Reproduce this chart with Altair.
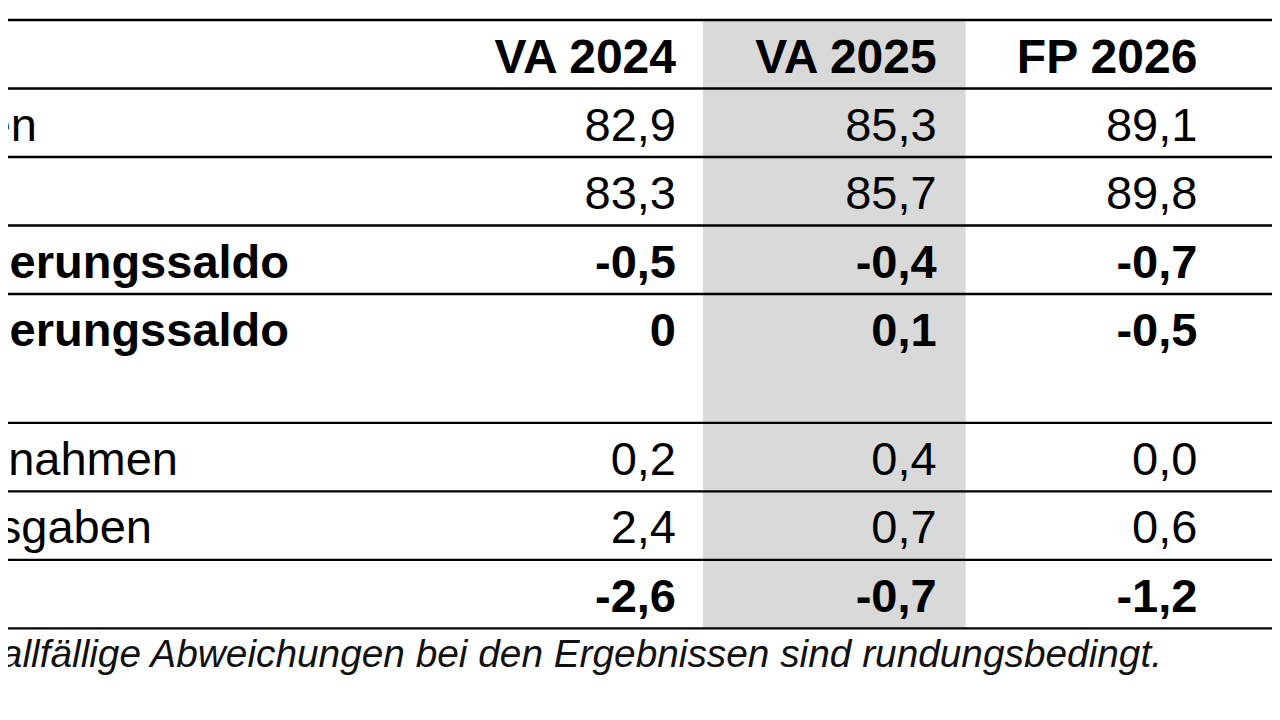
import altair as alt
import pandas as pd

# ---------------- data ----------------
columns = ["VA 2024", "VA 2025", "FP 2026", "FP 2027"]
row_labels = ["en", "n", "erungssaldo", "erungssaldo", "nnahmen", "sgaben", ""]
row_bold = [False, False, True, True, False, False, True]
va_2024 = ["82,9", "83,3", "-0,5", "0", "0,2", "2,4", "-2,6"]
va_2025 = ["85,3", "85,7", "-0,4", "0,1", "0,4", "0,7", "-0,7"]
fp_2026 = ["89,1", "89,8", "-0,7", "-0,5", "0,0", "0,6", "-1,2"]
footnote = "allfällige Abweichungen bei den Ergebnissen sind rundungsbedingt."

# ---------------- layout (page pixel units) ----------------
FONT = "Liberation Sans"
TABLE_TOP = 20
ROW_H = 68.5
row_units = [1, 1, 1, 1, 1.88, 1, 1, 1]          # header + 7 body rows
BASE_OFF = 52                                     # baseline offset within a row
COL_RIGHT0 = 676
COL_STEP = 260.7
label_right = [37, 10, 289, 289, 178, 152, 0]     # right end of the (cut) labels
FOOT_RIGHT = 1162
FOOT_BASE = 667
W, H = 1264, 700

tops = [TABLE_TOP]
for u in row_units:
    tops.append(tops[-1] + u * ROW_H)
col_right = [COL_RIGHT0 + i * COL_STEP for i in range(len(columns))]

xs = alt.Scale(domain=[8, 8 + W], nice=False, zero=False)
ys = alt.Scale(domain=[8, 8 + H], reverse=True, nice=False, zero=False)

# gray highlighted column (VA 2025)
gray_df = pd.DataFrame({
    "x1": [col_right[0] + 27], "x2": [col_right[1] + 29],
    "y1": [tops[0]], "y2": [tops[-1]],
})
gray = alt.Chart(gray_df).mark_rect(color="#d9d9d9").encode(
    x=alt.X("x1:Q", scale=xs, axis=None), x2="x2:Q",
    y=alt.Y("y1:Q", scale=ys, axis=None), y2="y2:Q",
)

# horizontal rules
rules_df = pd.DataFrame({"y": tops, "x1": 8, "x2": 8 + W})
rules = alt.Chart(rules_df).mark_rule(color="#000000", strokeWidth=2.3).encode(
    x=alt.X("x1:Q", scale=xs, axis=None), x2="x2:Q",
    y=alt.Y("y:Q", scale=ys, axis=None),
)

# header
head_df = pd.DataFrame({"text": columns, "x": col_right,
                        "y": [tops[0] + BASE_OFF + 1] * len(columns)})
header = alt.Chart(head_df).mark_text(
    align="right", baseline="alphabetic", font=FONT, fontSize=48,
    fontWeight="bold", color="#000000", clip=True,
).encode(
    x=alt.X("x:Q", scale=xs, axis=None), y=alt.Y("y:Q", scale=ys, axis=None),
    text="text:N",
)

# body cells
cells = []
for ci, vals in enumerate([va_2024, va_2025, fp_2026]):
    for ri, v in enumerate(vals):
        cells.append({"text": v, "x": col_right[ci],
                      "y": tops[ri + 1] + BASE_OFF, "bold": row_bold[ri]})
cells_df = pd.DataFrame(cells)

labels_df = pd.DataFrame({
    "text": row_labels, "x": label_right,
    "y": [tops[i + 1] + BASE_OFF for i in range(len(row_labels))],
    "bold": row_bold,
})


def text_layer(df, bold):
    return alt.Chart(df[df["bold"] == bold]).mark_text(
        align="right", baseline="alphabetic", font=FONT, fontSize=47,
        fontWeight="bold" if bold else "normal", color="#000000", clip=True,
    ).encode(
        x=alt.X("x:Q", scale=xs, axis=None), y=alt.Y("y:Q", scale=ys, axis=None),
        text="text:N",
    )


foot_df = pd.DataFrame({"text": [footnote], "x": [FOOT_RIGHT], "y": [FOOT_BASE]})
foot = alt.Chart(foot_df).mark_text(
    align="right", baseline="alphabetic", font=FONT, fontSize=38.8,
    fontStyle="italic", color="#111111", clip=True,
).encode(
    x=alt.X("x:Q", scale=xs, axis=None), y=alt.Y("y:Q", scale=ys, axis=None),
    text="text:N",
)

chart = alt.layer(
    gray, rules, header,
    text_layer(cells_df, False), text_layer(cells_df, True),
    text_layer(labels_df, False), text_layer(labels_df, True),
    foot,
).properties(
    width=W, height=H, padding=0, background="white",
    autosize=alt.AutoSizeParams(type="none"),
).configure_view(stroke=None)

chart.save("out.html", embed_options={"renderer": "svg", "actions": False})
